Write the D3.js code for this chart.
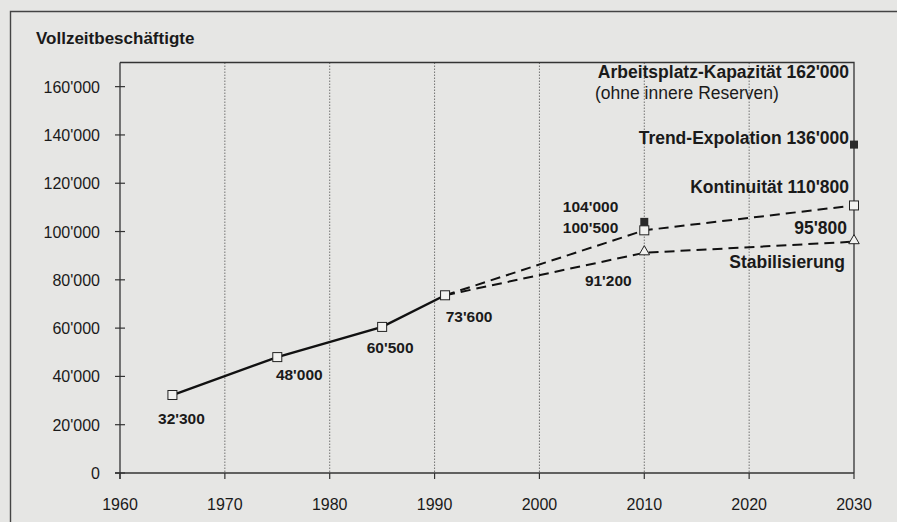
<!DOCTYPE html>
<html>
<head>
<meta charset="utf-8">
<script src="https://cdn.jsdelivr.net/npm/d3@7"></script>
<style>
  html, body { margin: 0; padding: 0; background: #e6e6e4; }
  svg { display: block; font-family: "Liberation Sans", Arial, Helvetica, sans-serif; }
  .tick-label { font-size: 16px; fill: #1a1a1a; }
  .pt-label { font-size: 15.5px; font-weight: bold; fill: #1a1a1a; }
  .series-label { font-size: 17.5px; font-weight: bold; fill: #1a1a1a; }
</style>
</head>
<body>
<div id="chart"></div>
<script>
  // --- data ---
  var histYears = [1965, 1975, 1985, 1991];
  var histValues = [32300, 48000, 60500, 73600];

  var projYears = [1991, 2010, 2030];
  var kontinuitaet = [73600, 100500, 110800];
  var stabilisierung = [73600, 91200, 95800];

  var trendYears = [2010, 2030];
  var trendValues = [104000, 136000];

  var xTicks = [1960, 1970, 1980, 1990, 2000, 2010, 2020, 2030];
  var yTicks = [0, 20000, 40000, 60000, 80000, 100000, 120000, 140000, 160000];

  var fmt = v => d3.format(",")(v).replace(/,/g, "'");
  // y labels in the scan use a plain apostrophe-like mark as well
  var yFmt = v => v === 0 ? "0" : fmt(v);

  var width = 897, height = 522;

  var svg = d3.select("#chart").append("svg")
      .attr("width", width)
      .attr("height", height);

  svg.append("rect")
      .attr("width", width)
      .attr("height", height)
      .attr("fill", "#e6e6e4");

  // outer frame (runs off the page right and bottom)
  svg.append("path")
      .attr("d", "M10.5," + (height + 5) + " V11.5 H" + (width + 5))
      .attr("fill", "none")
      .attr("stroke", "#444")
      .attr("stroke-width", 1.4);

  svg.append("text")
      .attr("x", 36)
      .attr("y", 43.5)
      .attr("class", "series-label")
      .style("font-size", "17px")
      .text("Vollzeitbeschäftigte");

  var x = d3.scaleLinear().domain([1960, 2030]).range([120, 854]);
  var y = d3.scaleLinear().domain([0, 170000]).range([473, 62.5]);

  // vertical grid lines
  svg.append("g")
    .selectAll("line")
    .data(xTicks.slice(1, -1))
    .enter().append("line")
      .attr("x1", d => x(d)).attr("x2", d => x(d))
      .attr("y1", y(170000)).attr("y2", y(0))
      .attr("stroke", "#555")
      .attr("stroke-width", 0.8)
      .attr("stroke-dasharray", "1.5,1.5");

  // plot frame: top + right border
  svg.append("path")
      .attr("d", "M" + x(1960) + "," + y(170000) + " H" + x(2030) + " V" + y(0))
      .attr("fill", "none")
      .attr("stroke", "#333")
      .attr("stroke-width", 1.3);

  // y axis
  var yAxis = svg.append("g").attr("transform", "translate(" + x(1960) + ",0)");
  yAxis.append("line")
      .attr("y1", y(170000)).attr("y2", y(0) + 6)
      .attr("stroke", "#333").attr("stroke-width", 1.3);
  yAxis.selectAll(".yt").data(yTicks).enter().append("line")
      .attr("x1", -5).attr("x2", 5)
      .attr("y1", d => y(d)).attr("y2", d => y(d))
      .attr("stroke", "#333").attr("stroke-width", 1.2);
  yAxis.selectAll("text").data(yTicks).enter().append("text")
      .attr("class", "tick-label")
      .attr("x", -20)
      .attr("y", d => y(d) + 6)
      .attr("text-anchor", "end")
      .text(yFmt);

  // x axis
  var xAxis = svg.append("g").attr("transform", "translate(0," + y(0) + ")");
  xAxis.append("line")
      .attr("x1", x(1960) - 5).attr("x2", x(2030))
      .attr("stroke", "#333").attr("stroke-width", 1.3);
  xAxis.selectAll(".xt").data(xTicks).enter().append("line")
      .attr("x1", d => x(d)).attr("x2", d => x(d))
      .attr("y1", 0).attr("y2", 6)
      .attr("stroke", "#333").attr("stroke-width", 1.2);
  xAxis.selectAll("text").data(xTicks).enter().append("text")
      .attr("class", "tick-label")
      .attr("x", d => x(d))
      .attr("y", 37)
      .attr("text-anchor", "middle")
      .text(d => d);

  var line = d3.line().x(d => x(d[0])).y(d => y(d[1]));
  var hist = histYears.map((yr, i) => [yr, histValues[i]]);
  var kont = projYears.map((yr, i) => [yr, kontinuitaet[i]]);
  var stab = projYears.map((yr, i) => [yr, stabilisierung[i]]);
  var trend = trendYears.map((yr, i) => [yr, trendValues[i]]);

  svg.append("path").datum(hist)
      .attr("d", line)
      .attr("fill", "none")
      .attr("stroke", "#111")
      .attr("stroke-width", 2.4);

  [kont, stab].forEach(s => {
    svg.append("path").datum(s)
        .attr("d", line)
        .attr("fill", "none")
        .attr("stroke", "#111")
        .attr("stroke-width", 2)
        .attr("stroke-dasharray", "10,6");
  });

  // markers
  var sq = 9;
  svg.selectAll(".open-sq")
    .data(hist.concat(kont.slice(1)))
    .enter().append("rect")
      .attr("x", d => x(d[0]) - sq / 2)
      .attr("y", d => y(d[1]) - sq / 2)
      .attr("width", sq).attr("height", sq)
      .attr("fill", "#f2f2f0")
      .attr("stroke", "#222")
      .attr("stroke-width", 1);

  svg.selectAll(".fill-sq")
    .data(trend)
    .enter().append("rect")
      .attr("x", d => x(d[0]) - 4)
      .attr("y", d => y(d[1]) - 4)
      .attr("width", 8).attr("height", 8)
      .attr("fill", "#2a2a2a");

  var tri = d3.symbol().type(d3.symbolTriangle).size(48);
  svg.selectAll(".tri")
    .data(stab.slice(1))
    .enter().append("path")
      .attr("d", tri)
      .attr("transform", d => "translate(" + x(d[0]) + "," + (y(d[1]) - 1) + ")")
      .attr("fill", "#f2f2f0")
      .attr("stroke", "#222")
      .attr("stroke-width", 1);

  // point labels: offsets from each marker
  var ptLabels = [
    {d: hist[0], dx: 9, dy: 29, anchor: "middle"},
    {d: hist[1], dx: 22, dy: 23, anchor: "middle"},
    {d: hist[2], dx: 8, dy: 26, anchor: "middle"},
    {d: hist[3], dx: 24, dy: 27, anchor: "middle"},
    {d: trend[0], dx: -26, dy: -10, anchor: "end"},
    {d: kont[1], dx: -26, dy: 3, anchor: "end"},
    {d: stab[1], dx: -36, dy: 33, anchor: "middle"},
    {d: stab[2], dx: -7, dy: -8, anchor: "end", big: true}
  ];
  svg.selectAll(".pt-label")
    .data(ptLabels)
    .enter().append("text")
      .attr("class", d => d.big ? "series-label" : "pt-label")
      .attr("x", d => x(d.d[0]) + d.dx)
      .attr("y", d => y(d.d[1]) + d.dy)
      .attr("text-anchor", d => d.anchor)
      .text(d => fmt(d.d[1]));

  // series labels at the right
  var right = x(2030) - 5;
  var seriesLabels = [
    {text: "Arbeitsplatz-Kapazität " + fmt(162000), y: 78, bold: true},
    {text: "Trend-Expolation " + fmt(trendValues[1]), y: 144, bold: true},
    {text: "Kontinuität " + fmt(kontinuitaet[2]), y: 193, bold: true},
    {text: "Stabilisierung", y: 268, bold: true, dx: -4}
  ];
  svg.selectAll(".series-label-r")
    .data(seriesLabels)
    .enter().append("text")
      .attr("class", "series-label")
      .attr("x", d => right + (d.dx || 0))
      .attr("y", d => d.y)
      .attr("text-anchor", "end")
      .text(d => d.text);

  svg.append("text")
      .attr("class", "series-label")
      .style("font-weight", "normal")
      .attr("x", 595)
      .attr("y", 98.5)
      .text("(ohne innere Reserven)");
</script>
</body>
</html>
